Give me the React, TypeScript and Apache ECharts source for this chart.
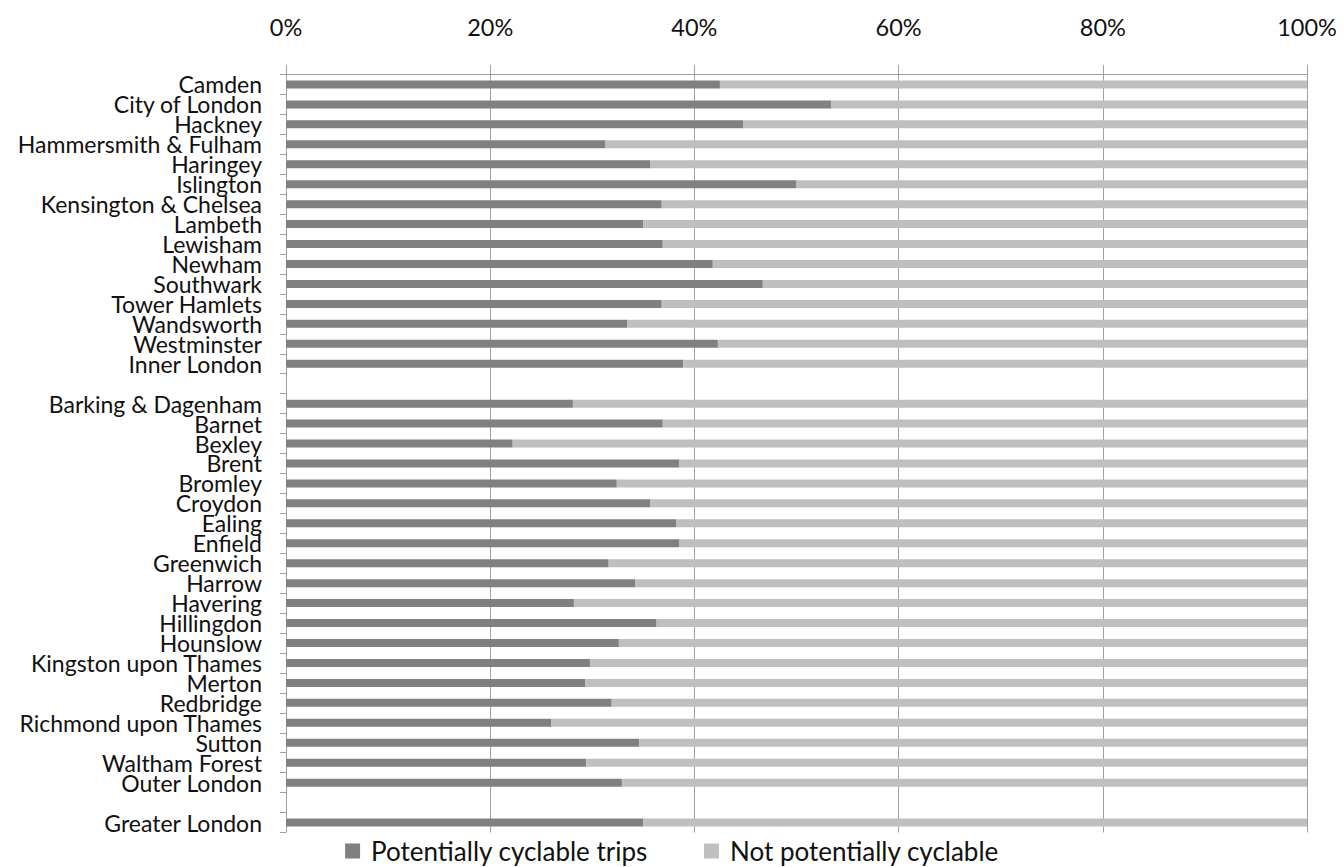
import React, { useEffect, useRef } from "react";
import * as echarts from "echarts";

const categories: string[] = [
  "Camden", "City of London", "Hackney", "Hammersmith & Fulham", "Haringey", "Islington",
  "Kensington & Chelsea", "Lambeth", "Lewisham", "Newham", "Southwark", "Tower Hamlets",
  "Wandsworth", "Westminster", "Inner London", "",
  "Barking & Dagenham", "Barnet", "Bexley", "Brent", "Bromley", "Croydon", "Ealing", "Enfield",
  "Greenwich", "Harrow", "Havering", "Hillingdon", "Hounslow", "Kingston upon Thames", "Merton",
  "Redbridge", "Richmond upon Thames", "Sutton", "Waltham Forest", "Outer London", "",
  "Greater London",
];

const cyclable: (number | null)[] = [
  42.5, 53.4, 44.8, 31.3, 35.7, 50.0, 36.8, 35.0, 36.9, 41.8, 46.7, 36.8, 33.4, 42.3, 38.9, null,
  28.1, 36.9, 22.2, 38.5, 32.4, 35.7, 38.2, 38.5, 31.6, 34.2, 28.2, 36.3, 32.6, 29.8, 29.3,
  31.9, 26.0, 34.6, 29.4, 32.9, null,
  35.0,
];

const notCyclable: (number | null)[] = [
  57.5, 46.6, 55.2, 68.7, 64.3, 50.0, 63.2, 65.0, 63.1, 58.2, 53.3, 63.2, 66.6, 57.7, 61.1, null,
  71.9, 63.1, 77.8, 61.5, 67.6, 64.3, 61.8, 61.5, 68.4, 65.8, 71.8, 63.7, 67.4, 70.2, 70.7,
  68.1, 74.0, 65.4, 70.6, 67.1, null,
  65.0,
];

const xTicks = { min: 0, max: 100, interval: 20 };
const seriesNames = ["Potentially cyclable trips", "Not potentially cyclable"];

const FONT = "Lato";
const GRID_COLOR = "#a0a0a0";

export default function App() {
  const ref = useRef<HTMLDivElement>(null);
  useEffect(() => {
    document.body.style.margin = "0";
    if (!ref.current) return;
    const chart = echarts.init(ref.current, undefined, { renderer: "svg" });
    chart.setOption({
      animation: false,
      backgroundColor: "#ffffff",
      textStyle: { fontFamily: FONT },
      legend: {
        data: seriesNames,
        top: 833,
        left: "center",
        icon: "rect",
        itemWidth: 15,
        itemHeight: 15,
        itemGap: 56,
        textStyle: { fontSize: 26, fontFamily: FONT, color: "#111", padding: [0, 0, 0, 6] },
      },
      grid: [
        { left: 286, right: 37, top: 74.5, height: 758, containLabel: false },
        { left: 286, right: 37, top: 65, height: 767.5, containLabel: false },
      ],
      xAxis: [
        {
          type: "value",
          gridIndex: 0,
          position: "top",
          min: xTicks.min,
          max: xTicks.max,
          interval: xTicks.interval,
          axisLine: { show: true, lineStyle: { color: GRID_COLOR, width: 1 } },
          axisTick: { show: false },
          axisLabel: { show: false },
          splitLine: { show: false },
        },
        {
          type: "value",
          gridIndex: 1,
          position: "top",
          min: xTicks.min,
          max: xTicks.max,
          interval: xTicks.interval,
          axisLine: { show: false },
          axisTick: { show: false },
          axisLabel: {
            show: true,
            formatter: "{value}%",
            fontSize: 23.5,
            fontFamily: FONT,
            color: "#111",
            margin: 26,
          },
          splitLine: { show: true, showMinLine: true, showMaxLine: true, lineStyle: { color: GRID_COLOR, width: 1 } },
        },
      ],
      yAxis: [
        {
          type: "category",
          gridIndex: 0,
          inverse: true,
          data: categories,
          axisLine: { show: false },
          axisTick: { show: true, length: 6, lineStyle: { color: GRID_COLOR } },
          axisLabel: {
            interval: 0,
            fontSize: 23,
            fontFamily: FONT,
            color: "#111",
            margin: 24,
          },
          splitLine: { show: false },
        },
        {
          type: "category",
          gridIndex: 1,
          inverse: true,
          data: categories,
          show: false,
        },
      ],
      series: [
        {
          name: seriesNames[0],
          type: "bar",
          stack: "total",
          xAxisIndex: 0,
          yAxisIndex: 0,
          barWidth: 8,
          itemStyle: { color: "#808080" },
          data: cyclable,
        },
        {
          name: seriesNames[1],
          type: "bar",
          stack: "total",
          xAxisIndex: 0,
          yAxisIndex: 0,
          barWidth: 8,
          itemStyle: { color: "#bfbfbf" },
          data: notCyclable,
        },
      ],
    });
    return () => chart.dispose();
  }, []);
  return <div ref={ref} style={{ width: 1344, height: 867 }} />;
}
